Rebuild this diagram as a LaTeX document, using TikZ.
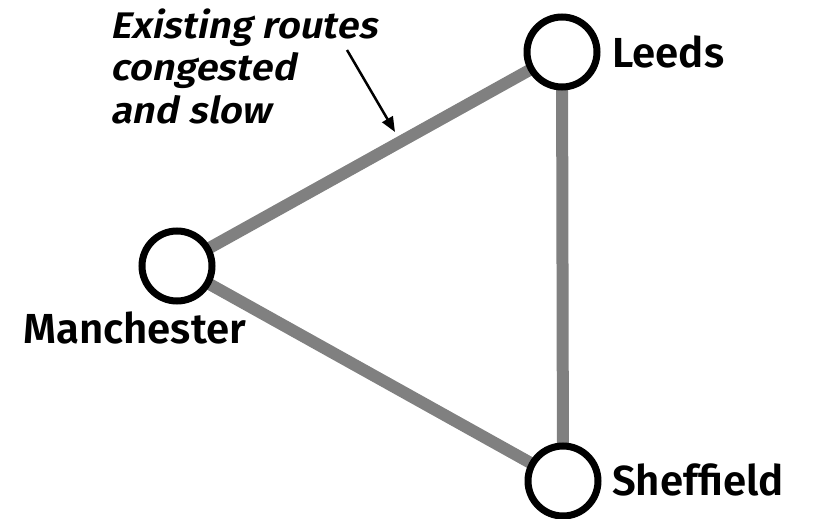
\documentclass[tikz,border=0pt]{standalone}
\usepackage{fontspec}
\setmainfont{Fira Sans}[BoldFont={Fira Sans SemiBold}]
\newfontfamily\slantfont{Fira Sans SemiBold}[FakeSlant=0.2, FakeStretch=1.07]
\usetikzlibrary{arrows.meta}
\tikzset{
  station/.style={circle, draw=black, line width=7pt, fill=white, minimum size=70pt, inner sep=0pt},
  route/.style={draw={rgb,255:red,128;green,128;blue,128}, line width=12pt},
  citylabel/.style={anchor=base west, inner sep=0pt, font=\fontsize{42}{46}\selectfont\bfseries},
  note/.style={anchor=base west, inner sep=0pt, align=left, font=\fontsize{37}{42}\selectfont\slantfont},
  pointer/.style={line width=2.5pt, -{Triangle[length=15pt,width=12pt]}}
}
\begin{document}
\begin{tikzpicture}[x=1pt, y=-1pt]
  \useasboundingbox (0,0) rectangle (814,519);
  % station positions
  \coordinate (L) at (562,52);
  \coordinate (M) at (177,266);
  \coordinate (S) at (563,481);
  % routes between the cities
  \draw[route] (M) -- (L);
  \draw[route] (L) -- (S);
  \draw[route] (M) -- (S);
  % stations
  \node[station] (leeds) at (L) {};
  \node[station] (manc) at (M) {};
  \node[station] (sheff) at (S) {};
  % city names
  \node[citylabel] (leedslbl) at (612,68) {Leeds};
  \node[citylabel] (manclbl) at (23,343) {Manchester};
  \node[citylabel] (sheffl) at (612,495) {Sheffield};
  % annotation
  \node[note] (n1) at (110,39) {Existing routes};
  \node[note] (n2) at (110,81) {congested};
  \node[note] (n3) at (110,123) {and slow};
  \coordinate (ptrA) at (347,50);
  \coordinate (ptrB) at (395,132);
  \draw[pointer] (ptrA) -- (ptrB);
\end{tikzpicture}
\end{document}
